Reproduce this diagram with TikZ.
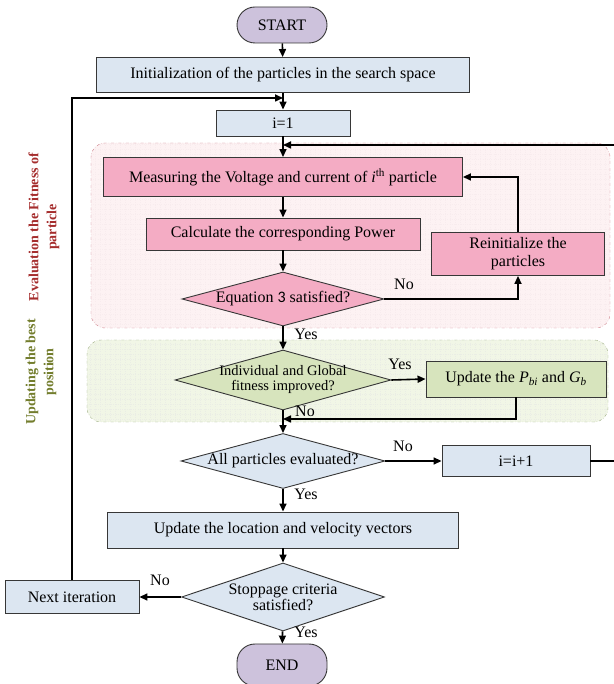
\documentclass[tikz,border=0pt]{standalone}
\usepackage{fontspec}
\setmainfont{Liberation Serif}
\newfontfamily\numfont{Carlito}
\usetikzlibrary{shapes.geometric,arrows.meta}

\definecolor{termfill}{RGB}{205,194,220}
\definecolor{bluefill}{RGB}{220,230,241}
\definecolor{pinkfill}{RGB}{244,172,196}
\definecolor{greenfill}{RGB}{215,228,189}
\definecolor{evalbg}{RGB}{253,242,243}
\definecolor{evalline}{RGB}{205,130,140}
\definecolor{bestbg}{RGB}{241,246,230}
\definecolor{bestline}{RGB}{160,175,135}
\definecolor{evaltext}{RGB}{165,45,45}
\definecolor{besttext}{RGB}{115,125,45}
\definecolor{edge}{RGB}{55,55,55}

\tikzstyle{term}=[draw=edge,line width=0.9pt,fill=termfill,rounded corners=18pt,minimum width=90pt,inner sep=0pt]
\tikzstyle{proc}=[draw=edge,line width=0.9pt,fill=bluefill,inner sep=0pt]
\tikzstyle{pproc}=[draw=edge,line width=0.9pt,fill=pinkfill,inner sep=0pt]
\tikzstyle{gproc}=[draw=edge,line width=0.9pt,fill=greenfill,inner sep=0pt]
\tikzstyle{dec}=[diamond,draw=edge,line width=0.9pt,inner sep=-3pt,align=center]
\tikzstyle{arr}=[line width=1.6pt,-{Triangle[length=8pt,width=7pt]}]
\tikzstyle{lbl}=[inner sep=0pt]
\tikzstyle{side}=[rotate=90,align=center,font=\bfseries\fontsize{14}{18}\selectfont]
\def\regionr{14pt}

\begin{document}
\begin{tikzpicture}[x=1pt,y=1pt,font=\fontsize{16}{18}\selectfont]
	\useasboundingbox (0,0) rectangle (613,684);
	% shaded groups
	\fill[evalbg,rounded corners=\regionr] (91,356) rectangle (610,541);
	\begin{scope}
		\clip[rounded corners=\regionr] (91,356) rectangle (610,541);
		\draw[help lines,step=5pt,color=evalline!15,dotted] (91,356) grid (610,541);
	\end{scope}
	\draw[evalline,dash dot,rounded corners=\regionr] (91,356) rectangle (610,541);
	\fill[bestbg,rounded corners=\regionr] (87,262) rectangle (608,344);
	\begin{scope}
		\clip[rounded corners=\regionr] (87,262) rectangle (608,344);
		\draw[help lines,step=5pt,color=bestline!22,dotted] (87,262) grid (608,344);
	\end{scope}
	\draw[bestline,dash dot,rounded corners=\regionr] (87,262) rectangle (608,344);
	\node[side,text=evaltext] (evallbl) at (44,457) {Evaluation the Fitness of\\particle};
	\node[side,text=besttext] (bestlbl) at (41,312) {Updating the best\\position};

	% main column
	\node[term,minimum height=36pt] (start) at (282,659) {START};
	\node[proc,minimum width=373pt,minimum height=35pt] (init) at (283,609) {Initialization of the particles in the search space};
	\node[proc,minimum width=134pt,minimum height=26pt] (i1) at (283,561) {i=1};
	\node[pproc,minimum width=359pt,minimum height=39pt] (meas) at (283,507) {Measuring the Voltage and current of \textit{i}\textsuperscript{th} particle};
	\node[pproc,minimum width=274pt,minimum height=32pt] (calc) at (283,450) {Calculate the corresponding Power};
	\node[dec,fill=pinkfill,shape aspect=3.7,minimum width=202pt,minimum height=54pt] (eq) at (283,385) {Equation {\numfont 3} satisfied?};
	\node[pproc,minimum width=173pt,minimum height=43pt,align=center] (reinit) at (518,430) {Reinitialize the\\particles};
	\node[dec,fill=greenfill,shape aspect=3.6,minimum width=216pt,minimum height=60pt,inner sep=-5pt,font=\fontsize{14.5}{15}\selectfont] (indiv) at (283,304) {Individual and Global\\fitness improved?};
	\node[gproc,minimum width=180pt,minimum height=36pt] (upd) at (516,305) {Update the \textit{P}\textsubscript{\textit{bi}} and \textit{G}\textsubscript{\textit{b}}};
	\node[dec,fill=bluefill,shape aspect=3.7,minimum width=204pt,minimum height=55pt] (allp) at (283,223) {All particles evaluated?};
	\node[proc,minimum width=148pt,minimum height=31pt] (inc) at (516,223) {i=i+1};
	\node[proc,minimum width=351pt,minimum height=36pt] (loc) at (283,154) {Update the location and velocity vectors};
	\node[dec,fill=bluefill,shape aspect=3,minimum width=203pt,minimum height=68pt,font=\fontsize{16}{16}\selectfont] (stop) at (283,87) {Stoppage criteria\\satisfied?};
	\node[proc,minimum width=134pt,minimum height=33pt] (next) at (72,87) {Next iteration};
	\node[term,minimum height=42pt] (end) at (282,19) {END};

	% join points
	\coordinate (j1) at (283,586);
	\coordinate (j2) at (283,539);
	\coordinate (j3) at (283,265);

	% connectors
	\foreach \a/\b in {start/init,init/i1,i1/meas,meas/calc,calc/eq,eq/indiv,indiv/allp,allp/loc,loc/stop,stop/end}
		\draw[arr] (\a) -- (\b);
	\draw[arr] (eq.east) -| (reinit.south);
	\draw[arr] (reinit.north) |- (meas.east);
	\draw[arr] (indiv.east) -- (upd.west);
	\draw[arr] (upd.south) |- (j3);
	\draw[arr] (allp.east) -- (inc.west);
	\draw[arr] (inc.east) -- ++(26,0) |- (j2);
	\draw[arr] (stop.west) -- (next.east);
	\draw[arr] (next.north) |- (j1);

	% branch labels
	\node[lbl] (no1) at (404,400) {No};
	\node[lbl] (yes1) at (306,350) {Yes};
	\node[lbl] (yes2) at (400,320) {Yes};
	\node[lbl] (no2) at (305,273) {No};
	\node[lbl] (no3) at (403,238) {No};
	\node[lbl] (yes3) at (306,190) {Yes};
	\node[lbl] (no4) at (160,104) {No};
	\node[lbl] (yes4) at (306,52) {Yes};
\end{tikzpicture}
\end{document}
